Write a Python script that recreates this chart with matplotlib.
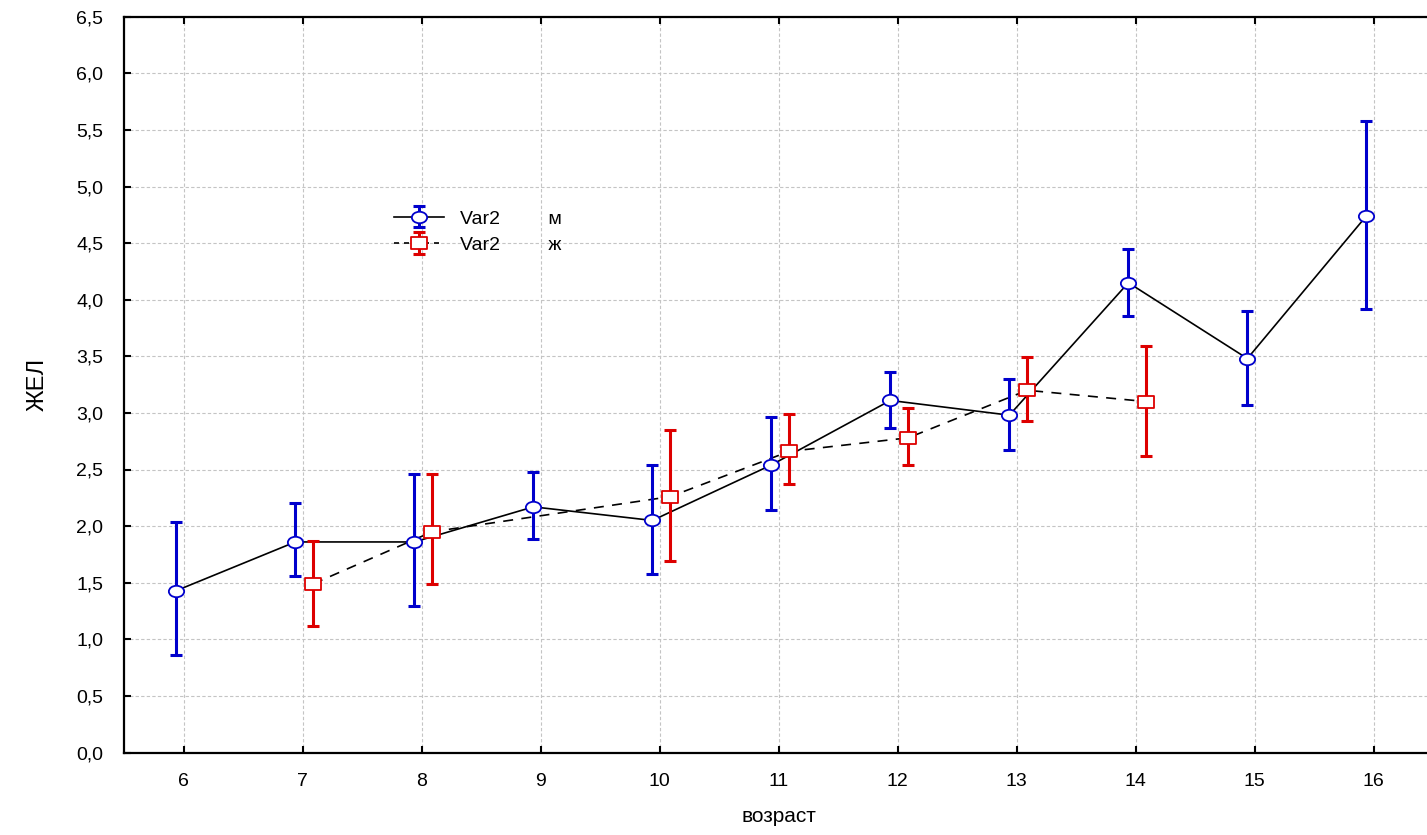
import numpy as np
import matplotlib
matplotlib.use('Agg')
import matplotlib.pyplot as plt
from matplotlib.path import Path
from matplotlib.transforms import Affine2D
from matplotlib.legend_handler import HandlerTuple, HandlerErrorbar
from matplotlib.container import ErrorbarContainer

# возраст, м
age_m = [6, 7, 8, 9, 10, 11, 12, 13, 14, 15, 16]
mean_m = [1.43, 1.86, 1.86, 2.17, 2.05, 2.54, 3.11, 2.98, 4.15, 3.48, 4.74]
low_m = [0.86, 1.56, 1.29, 1.89, 1.58, 2.14, 2.87, 2.67, 3.86, 3.07, 3.92]
high_m = [2.04, 2.20, 2.46, 2.48, 2.54, 2.96, 3.36, 3.30, 4.45, 3.90, 5.58]

# возраст, ж
age_f = [7, 8, 10, 11, 12, 13, 14]
mean_f = [1.49, 1.95, 2.26, 2.66, 2.78, 3.20, 3.10]
low_f = [1.12, 1.49, 1.69, 2.37, 2.54, 2.93, 2.62]
high_f = [1.87, 2.46, 2.85, 2.99, 3.04, 3.49, 3.59]

xticks = [6, 7, 8, 9, 10, 11, 12, 13, 14, 15, 16]
yticks = [0.0, 0.5, 1.0, 1.5, 2.0, 2.5, 3.0, 3.5, 4.0, 4.5, 5.0, 5.5, 6.0, 6.5]
ytick_labels = ['0,0', '0,5', '1,0', '1,5', '2,0', '2,5', '3,0', '3,5',
                '4,0', '4,5', '5,0', '5,5', '6,0', '6,5']

plt.rcParams['font.family'] = ['Liberation Sans', 'DejaVu Sans']

BLUE = '#0000cc'
RED = '#dd0000'

# маркеры чуть шире, чем выше
ellipse = Path.unit_circle().transformed(Affine2D().scale(1, 0.75))
rect = Path([(-1, -0.75), (1, -0.75), (1, 0.75), (-1, 0.75), (-1, -0.75)],
            [Path.MOVETO, Path.LINETO, Path.LINETO, Path.LINETO, Path.CLOSEPOLY])

fig = plt.figure(figsize=(14.27, 8.35), dpi=100)
ax = fig.add_axes([124 / 1427, 82.5 / 835, 1309 / 1427, 735.8 / 835])

xm = np.array(age_m) - 0.06
xf = np.array(age_f) + 0.09
mm = np.array(mean_m)
mf = np.array(mean_f)

ax.plot(xm, mm, color='black', lw=1.2, zorder=3)
ax.plot(xf, mf, color='black', lw=1.2, ls=(0, (6, 5)), zorder=3)

eb_m = ax.errorbar(xm, mm, yerr=[mm - np.array(low_m), np.array(high_m) - mm],
                   fmt='none', ecolor=BLUE, elinewidth=2.2, capsize=4,
                   capthick=2.2, zorder=4)
eb_f = ax.errorbar(xf, mf, yerr=[mf - np.array(low_f), np.array(high_f) - mf],
                   fmt='none', ecolor=RED, elinewidth=2.2, capsize=4,
                   capthick=2.2, zorder=4)

ln_m, = ax.plot(xm, mm, ls='none', marker=ellipse, ms=11, mfc='white',
                mec=BLUE, mew=1.3, zorder=5)
ln_f, = ax.plot(xf, mf, ls='none', marker=rect, ms=12, mfc='white',
                mec=RED, mew=1.3, zorder=5)

# для легенды
lg_m, = ax.plot([], [], color='black', lw=1.2, marker=ellipse, ms=11,
                mfc='white', mec=BLUE, mew=1.3)
lg_f, = ax.plot([], [], color='black', lw=1.2, ls=(0, (3, 3)), marker=rect,
                ms=12, mfc='white', mec=RED, mew=1.3)

leg = ax.legend([(eb_m, lg_m), (eb_f, lg_f)],
                ['Var2         м', 'Var2         ж'],
                handler_map={tuple: HandlerTuple(ndivide=1),
                             ErrorbarContainer: HandlerErrorbar(yerr_size=0.55)},
                loc='upper left', bbox_to_anchor=(0.2, 0.748),
                frameon=False, fontsize=14, handlelength=2.6,
                handletextpad=0.8, labelspacing=0.45, borderaxespad=0)

ax.set_xlim(5.5, 16.5)
ax.set_ylim(0, 6.5)
ax.set_xticks(xticks)
ax.set_yticks(yticks)
ax.set_yticklabels(ytick_labels)
ax.tick_params(axis='both', direction='in', labelsize=14, width=1.5, length=5)
ax.tick_params(axis='x', pad=15, top=True)
ax.tick_params(axis='y', pad=15)

ax.grid(True, color='#c4c4c4', ls=(0, (3, 2)), lw=0.8)
ax.set_axisbelow(True)
for s in ax.spines.values():
    s.set_linewidth(1.6)
ax.spines['right'].set_visible(False)

ax.set_xlabel('возраст', fontsize=15, labelpad=12)
ax.set_ylabel('ЖЕЛ', fontsize=17, labelpad=20)

plt.savefig('out.png', dpi=100)
